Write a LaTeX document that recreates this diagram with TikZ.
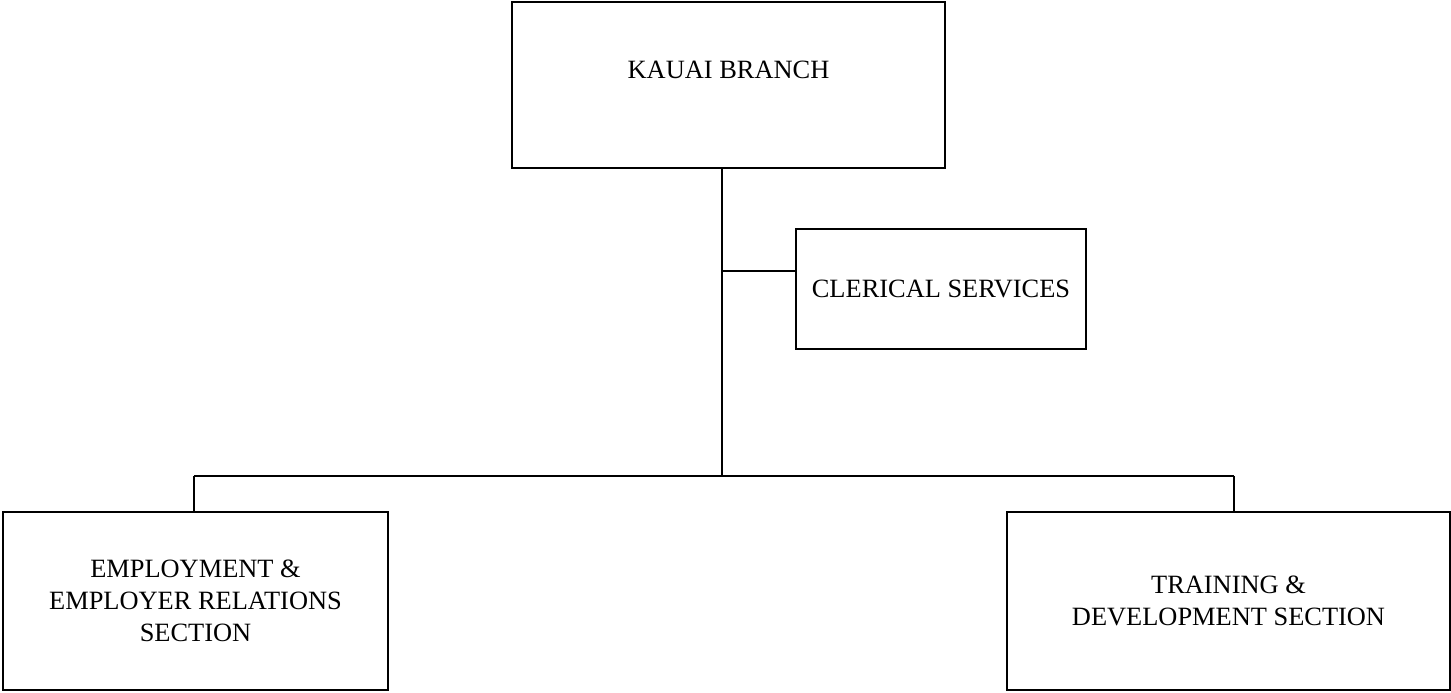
\documentclass[tikz,border=0pt]{standalone}
\usepackage{fontspec}
\setmainfont{Liberation Serif}
\begin{document}
\begin{tikzpicture}[x=0.5pt,y=-0.5pt,
  orgbox/.style={draw, line width=1pt, inner sep=0pt},
  lbl/.style={font=\fontsize{13.2}{16}\selectfont, align=center, inner sep=0pt},
  conn/.style={line width=0.6pt}]
\useasboundingbox (0,0) rectangle (1451,692);
% boxes
\node[orgbox, minimum width=216.5pt, minimum height=83pt] (kauai) at (728.5,85) {};
\node[lbl, anchor=base] (kauait) at (728.5,78) {KAUAI BRANCH};
\node[orgbox, lbl, minimum width=145pt, minimum height=60pt] (cler) at (941,289) {CLERICAL SERVICES};
\node[orgbox, lbl, minimum width=192.5pt, minimum height=89pt] (emp) at (195.5,601) {EMPLOYMENT \&\\EMPLOYER RELATIONS\\SECTION};
\node[orgbox, lbl, minimum width=221.5pt, minimum height=89pt] (train) at (1228.5,601) {TRAINING \&\\DEVELOPMENT SECTION};
% junctions
\coordinate (j) at (722,476);
\coordinate (c) at (722,271);
\coordinate (l) at (194,476);
\coordinate (r) at (1234,476);
% connectors
\draw[conn] (kauai.south -| j) -- (j);
\draw[conn] (c) -- (cler.west |- c);
\draw[conn] (l) -- (r);
\draw[conn] (l) -- (l |- emp.north);
\draw[conn] (r) -- (r |- train.north);
\end{tikzpicture}
\end{document}
